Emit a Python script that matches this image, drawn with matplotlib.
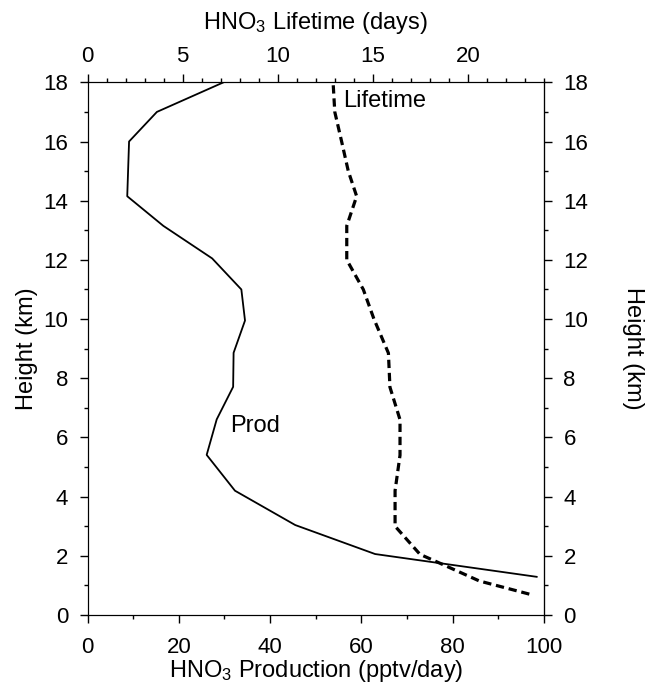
import matplotlib
matplotlib.use("Agg")
import matplotlib.pyplot as plt
from matplotlib.ticker import MultipleLocator

plt.rcParams['font.family'] = ['Liberation Sans', 'DejaVu Sans']
plt.rcParams['mathtext.fontset'] = 'custom'
plt.rcParams['mathtext.rm'] = 'Liberation Sans'
plt.rcParams['mathtext.default'] = 'regular'
plt.rcParams['font.size'] = 16

# production profile (pptv/day) vs height (km)
prod_height = [18.0, 17.0, 16.0, 14.15, 13.15, 12.05, 11.0, 9.95, 8.86, 7.71, 6.61, 5.41, 4.2, 3.04, 2.06, 1.29]
prod_value = [29.8, 15.2, 9.1, 8.7, 16.6, 27.3, 33.7, 34.5, 32.0, 31.9, 28.3, 26.1, 32.3, 45.5, 63.0, 98.4]

# lifetime profile (days) vs height (km)
life_height = [17.9, 17.0, 16.0, 15.0, 14.15, 13.15, 12.0, 11.0, 10.0, 8.85, 7.7, 6.6, 5.4, 4.2, 3.0, 2.05, 1.7, 1.15, 0.7]
life_value = [12.92, 13.0, 13.36, 13.71, 14.15, 13.63, 13.63, 14.5, 15.06, 15.82, 15.9, 16.43, 16.43, 16.17, 16.17, 17.48, 18.7, 20.6, 23.26]

fig = plt.figure(figsize=(6.45, 6.9), dpi=100)
ax = fig.add_axes([0.1357, 0.1087, 0.7077, 0.772])

ax.plot(prod_value, prod_height, color='black', lw=1.3)
ax.set_xlim(0, 100)
ax.set_ylim(0, 18)
ax.xaxis.set_major_locator(MultipleLocator(20))
ax.xaxis.set_minor_locator(MultipleLocator(10))
ax.yaxis.set_major_locator(MultipleLocator(2))
ax.yaxis.set_minor_locator(MultipleLocator(1))
ax.set_xlabel('HNO$_3$ Production (pptv/day)', fontsize=17, labelpad=0)
ax.set_ylabel('Height (km)', fontsize=17, labelpad=4)
ax.tick_params(axis='x', which='major', direction='out', length=5.5, width=1, pad=10)
ax.tick_params(axis='y', which='major', direction='out', length=5.5, width=1, pad=8.5)
ax.tick_params(which='minor', direction='out', length=3, width=1)
ax.text(31.2, 6.4, 'Prod', fontsize=17, va='center', ha='left')

# top axis for lifetime
ax2 = ax.twiny()
ax2.plot(life_value, life_height, color='black', lw=2.3, linestyle=(0, (2.6, 1.5)))
ax2.set_xlim(0, 24)
ax2.xaxis.set_major_locator(MultipleLocator(5))
ax2.xaxis.set_minor_locator(MultipleLocator(1))
ax2.set_xlabel('HNO$_3$ Lifetime (days)', fontsize=17, labelpad=12)
ax2.tick_params(which='major', direction='out', length=5.5, width=1, pad=5.5)
ax2.tick_params(which='minor', direction='out', length=3, width=1)
ax.text(56.0, 17.36, 'Lifetime', fontsize=17, va='center', ha='left')

# right height axis
sec = ax.secondary_yaxis('right')
sec.yaxis.set_major_locator(MultipleLocator(2))
sec.yaxis.set_minor_locator(MultipleLocator(1))
sec.tick_params(which='major', direction='out', length=5.5, width=1, pad=8.5)
sec.tick_params(which='minor', direction='out', length=3, width=1)
sec.set_ylabel('Height (km)', fontsize=17, rotation=270, labelpad=40)

fig.savefig('out.png', dpi=100)
